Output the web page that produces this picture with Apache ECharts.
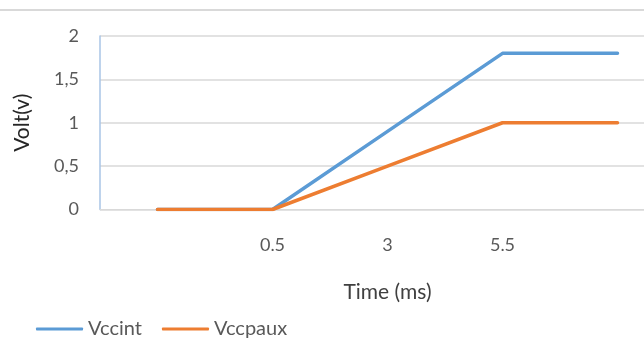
<!DOCTYPE html>
<html><head><meta charset="utf-8">
<script src="https://cdn.jsdelivr.net/npm/echarts@6/dist/echarts.min.js"></script>
<style>html,body{margin:0;padding:0;background:#fff}#c{width:644px;height:341px}</style>
</head><body><div id="c"></div>
<script>
const categories = ["", "0.5", "3", "5.5", ""];
const vccint = [0, 0, 0.9, 1.8, 1.8];
const vccpaux = [0, 0, 0.5, 1, 1];
const seriesNames = ["Vccint", "Vccpaux"];
const yTicks = {min: 0, max: 2, interval: 0.5};

const FONT = "Lato, 'Liberation Sans', sans-serif";
const chart = echarts.init(document.getElementById('c'), null, {renderer: 'canvas'});
chart.setOption({
  animation: false,
  graphic: [{type: 'rect', shape: {x: 0, y: 9, width: 644, height: 2}, style: {fill: '#d9d9d9'}, silent: true}],
  grid: {left: 100, top: 36, width: 575, height: 173.5, outerBoundsMode: 'none', containLabel: false},
  legend: {
    left: 36, top: 319, padding: 0, itemWidth: 47, itemHeight: 3, itemGap: 20,
    icon: 'roundRect',
    textStyle: {color: '#595959', fontSize: 20, fontFamily: FONT},
    data: seriesNames
  },
  xAxis: {
    type: 'category', data: categories, boundaryGap: true,
    name: 'Time (ms)', nameLocation: 'middle', nameGap: 72,
    nameTextStyle: {color: '#404040', fontSize: 21, fontFamily: FONT},
    axisLine: {lineStyle: {color: '#d9d9d9', width: 1}},
    axisTick: {show: false},
    axisLabel: {color: '#595959', fontSize: 18, fontFamily: FONT, margin: 27, interval: 0}
  },
  yAxis: {
    type: 'value', min: yTicks.min, max: yTicks.max, interval: yTicks.interval,
    name: 'Volt(v)', nameLocation: 'middle', nameGap: 67, nameRotate: 90,
    nameTextStyle: {color: '#262626', fontSize: 21, fontFamily: FONT},
    axisLine: {show: true, lineStyle: {color: '#a9c5e6', width: 1.5}},
    axisTick: {show: false},
    splitLine: {lineStyle: {color: '#d9d9d9', width: 1.5}},
    axisLabel: {color: '#595959', fontSize: 18, fontFamily: FONT, margin: 21,
      formatter: v => String(v).replace('.', ',')}
  },
  series: [
    {name: seriesNames[0], type: 'line', data: vccint, symbol: 'none',
     lineStyle: {color: '#5b9bd5', width: 3.5, cap: 'round', join: 'round'}, itemStyle: {color: '#5b9bd5'}},
    {name: seriesNames[1], type: 'line', data: vccpaux, symbol: 'none',
     lineStyle: {color: '#ed7d31', width: 3.5, cap: 'round', join: 'round'}, itemStyle: {color: '#ed7d31'}}
  ]
});
</script></body></html>
